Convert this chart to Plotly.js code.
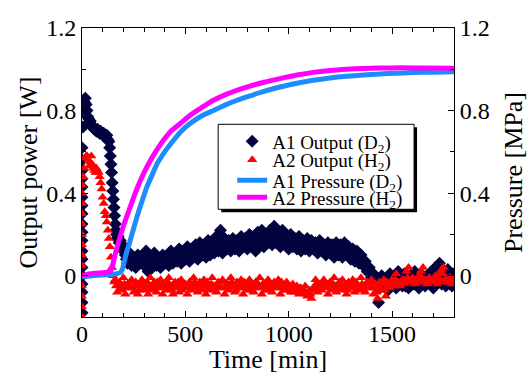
<!DOCTYPE html>
<html>
<head>
<meta charset="utf-8">
<script src="https://cdn.plot.ly/plotly-3.0.1.min.js"></script>
<style>html,body{margin:0;padding:0;background:#fff;}#chart{width:531px;height:374px;}</style>
</head>
<body>
<div id="chart"></div>
<script>
// ---- Data ----
const a1OutTime = [0,0,0,0,0,0,0,0,0,0,0,0,0,0,0,0,0,0,0,
  5,8,12,16,20,24,28,32,36,40,45,50,55,60,65,70,75,80,85,90,95,100,105,110,115,120,125,130,134,137,140,143,146,149,152,155,158,161,164,167,170,175,180,185,190,195,200,205,
  210,220,230,240,250,260,270,280,290,300,310,320,330,340,350,360,370,380,390,400,410,420,430,440,450,460,470,480,490,500,
  510,520,530,540,550,560,570,580,590,600,610,620,630,640,650,660,670,680,690,700,710,720,730,740,750,760,770,780,790,800,
  810,820,830,840,850,860,870,880,890,900,910,920,930,940,950,960,970,980,990,1000,1010,1020,1030,1040,1050,1060,1070,1080,1090,1100,
  1110,1120,1130,1140,1150,1160,1170,1180,1190,1200,1210,1220,1230,1240,1250,1260,1270,1280,1290,1300,1310,1320,1330,1340,1350,1360,1370,1380,1390,1400,
  1410,1420,1430,1435,1440,1450,1460,1470,1480,1490,1500,1510,1520,1530,1540,1550,1560,1570,1580,1590,1600,1610,1620,1630,1640,1650,1660,1670,1680,1690,1700,
  1710,1720,1730,1740,1750,1760,1770,1780,1790,1800];
const a1OutPower = [-0.18,-0.13,-0.08,-0.04,0.0,0.04,0.08,0.12,0.17,0.21,0.25,0.3,0.34,0.38,0.43,0.47,0.51,0.56,0.62,
  0.72,0.8,0.84,0.86,0.83,0.8,0.77,0.76,0.74,0.75,0.73,0.72,0.72,0.71,0.71,0.70,0.71,0.70,0.69,0.70,0.69,0.68,0.69,0.68,0.67,0.68,0.66,0.65,0.62,0.58,0.54,0.5,0.45,0.41,0.37,0.33,0.29,0.25,0.22,0.2,0.18,0.19,0.16,0.17,0.14,0.15,0.12,0.13,
  0.10,0.06,0.11,0.05,0.09,0.04,0.10,0.06,0.08,0.05,0.12,0.02,0.09,0.04,0.11,0.05,0.08,0.04,0.10,0.06,0.09,0.05,0.12,0.06,0.10,0.07,0.13,0.06,0.12,0.08,
  0.14,0.07,0.13,0.09,0.15,0.08,0.16,0.10,0.14,0.09,0.17,0.10,0.16,0.11,0.19,0.12,0.22,0.11,0.18,0.13,0.17,0.12,0.18,0.13,0.17,0.12,0.19,0.14,0.18,0.13,
  0.20,0.14,0.19,0.12,0.21,0.15,0.22,0.14,0.20,0.16,0.22,0.15,0.24,0.16,0.21,0.14,0.22,0.15,0.19,0.13,0.20,0.14,0.18,0.13,0.19,0.12,0.17,0.13,0.18,0.12,
  0.17,0.13,0.16,0.11,0.17,0.12,0.15,0.10,0.16,0.11,0.15,0.09,0.16,0.10,0.15,0.09,0.16,0.11,0.14,0.08,0.13,0.07,0.12,0.06,0.10,0.05,0.07,0.02,0.04,-0.01,
  0.01,-0.04,-0.02,-0.13,-0.06,0.00,-0.05,-0.02,-0.07,0.01,-0.04,-0.01,-0.06,0.02,-0.03,-0.05,0.01,-0.02,-0.06,0.00,-0.04,0.02,-0.03,-0.06,0.01,-0.02,-0.05,0.00,-0.03,0.02,-0.06,
  0.04,-0.02,0.06,-0.04,0.01,-0.05,0.03,-0.02,-0.05,0.01];
// further A1 readings between the points above
const a1OutTimeB = [215,225,235,245,255,265,275,285,295,305,315,325,335,345,355,365,375,385,395,
  405,415,425,435,445,455,465,475,485,495,505,515,525,535,545,555,565,575,585,595,
  605,615,625,635,645,655,665,675,685,695,705,715,725,735,745,755,765,775,785,795,
  805,815,825,835,845,855,865,875,885,895,905,915,925,935,945,955,965,975,985,995,
  1005,1015,1025,1035,1045,1055,1065,1075,1085,1095,1105,1115,1125,1135,1145,1155,1165,1175,1185,1195,
  1205,1215,1225,1235,1245,1255,1265,1275,1285,1295,1305,1315,1325,1335,1345,1355,1365,1375,1385,1395,
  1405,1415,1425,1445,1455,1465,1475,1485,1495,1505,1515,1525,1535,1545,1555,1565,1575,1585,1595,
  1605,1615,1625,1635,1645,1655,1665,1675,1685,1695,1705,1715,1725,1735,1745,1755,1765,1775,1785,1795];
const a1OutPowerB = [0.08,0.09,0.07,0.08,0.06,0.07,0.09,0.07,0.06,0.08,0.07,0.06,0.07,0.08,0.07,0.06,0.07,0.08,0.07,
  0.07,0.08,0.09,0.08,0.09,0.08,0.10,0.09,0.10,0.09,0.11,0.10,0.11,0.12,0.11,0.12,0.13,0.12,0.12,0.13,
  0.13,0.14,0.13,0.15,0.14,0.16,0.17,0.16,0.15,0.16,0.15,0.14,0.15,0.16,0.15,0.14,0.16,0.17,0.16,0.15,
  0.17,0.16,0.17,0.15,0.18,0.17,0.19,0.18,0.17,0.18,0.19,0.18,0.20,0.19,0.18,0.17,0.18,0.17,0.16,0.16,
  0.17,0.16,0.15,0.16,0.15,0.16,0.14,0.15,0.16,0.14,0.15,0.14,0.15,0.13,0.14,0.15,0.13,0.12,0.13,0.14,
  0.13,0.12,0.13,0.12,0.13,0.12,0.13,0.12,0.11,0.12,0.10,0.10,0.09,0.09,0.08,0.07,0.06,0.04,0.03,0.01,
  -0.02,-0.01,-0.05,-0.03,-0.02,-0.04,-0.01,-0.03,-0.05,-0.02,-0.03,-0.01,-0.04,-0.02,-0.03,-0.05,-0.01,-0.03,-0.02,
  -0.04,-0.01,-0.03,-0.02,-0.04,-0.01,-0.03,-0.02,-0.04,0.00,-0.03,0.02,0.01,0.03,-0.02,-0.03,-0.01,0.01,-0.03,-0.02];

const a2OutTime = [0,0,0,0,0,0,0,0,0,0,0,0,0,0,
  5,10,15,20,25,30,35,40,45,50,55,60,65,70,75,80,85,90,95,100,105,110,115,120,125,130,135,140,145,150,155,
  160,170,180,190,200,210,220,230,240,250,260,270,280,290,300,310,320,330,340,350,360,370,380,390,400,410,420,430,440,450,
  460,470,480,490,500,510,520,530,540,550,560,570,580,590,600,610,620,630,640,650,660,670,680,690,700,710,720,730,740,750,
  760,770,780,790,800,810,820,830,840,850,860,870,880,890,900,910,920,930,940,950,960,970,980,990,1000,1010,1020,1030,1040,1050,
  1060,1070,1080,1090,1100,1110,1120,1130,1140,1150,1160,1170,1180,1190,1200,1210,1220,1230,1240,1250,1260,1270,1280,1290,1300,1310,1320,1330,1340,1350,
  1360,1370,1380,1390,1400,1410,1420,1430,1440,1450,1460,1470,1480,1490,1500,1510,1520,1530,1540,1550,1560,1570,1580,1590,1600,1610,1620,1630,1640,1650,
  1660,1670,1680,1690,1700,1710,1720,1730,1740,1750,1760,1770,1780,1790,1800];
const a2OutPower = [-0.2,-0.15,-0.1,-0.05,0.0,0.05,0.1,0.15,0.2,0.25,0.3,0.35,0.4,0.44,
  0.48,0.52,0.57,0.58,0.58,0.56,0.53,0.55,0.58,0.54,0.52,0.51,0.50,0.52,0.51,0.50,0.48,0.45,0.42,0.38,0.35,0.31,0.29,0.26,0.22,0.18,0.14,0.09,0.04,0.0,-0.03,
  -0.02,-0.08,-0.03,-0.07,-0.01,-0.09,-0.04,-0.06,-0.02,-0.08,-0.03,-0.09,-0.05,-0.02,-0.07,-0.04,-0.09,-0.01,-0.06,-0.03,-0.08,-0.05,-0.02,-0.09,-0.04,-0.07,-0.01,-0.06,-0.09,-0.03,
  -0.05,-0.08,-0.02,-0.06,-0.04,-0.09,-0.03,-0.07,-0.01,-0.05,-0.08,-0.03,-0.06,-0.02,-0.09,-0.04,-0.07,-0.01,-0.05,-0.08,-0.03,-0.06,-0.02,-0.09,-0.04,-0.07,-0.01,-0.05,-0.08,-0.03,
  -0.06,-0.02,-0.09,-0.04,-0.07,-0.02,-0.05,-0.08,-0.03,-0.06,-0.01,-0.09,-0.04,-0.07,-0.02,-0.05,-0.08,-0.03,-0.06,-0.02,-0.09,-0.04,-0.07,-0.03,-0.06,-0.08,-0.04,-0.07,-0.05,-0.09,
  -0.06,-0.08,-0.05,-0.10,-0.07,-0.11,-0.06,-0.02,-0.08,-0.04,-0.07,-0.02,-0.05,-0.09,-0.03,-0.06,-0.01,-0.08,-0.04,-0.07,-0.02,-0.05,-0.09,-0.03,-0.06,-0.02,-0.08,-0.04,-0.07,-0.01,
  -0.05,-0.08,-0.03,-0.06,-0.02,-0.09,-0.04,-0.11,-0.03,-0.07,-0.02,-0.10,-0.04,-0.06,-0.02,-0.05,0.01,-0.03,-0.05,-0.02,-0.04,0.02,0.04,-0.03,-0.01,-0.04,-0.02,0.00,0.02,0.04,
  -0.02,-0.04,-0.01,-0.03,-0.02,0.00,-0.04,0.01,0.03,0.04,-0.02,-0.03,-0.01,-0.04,-0.02];
// further A2 readings between the points above
const a2OutTimeB = [165,175,185,195,205,215,225,235,245,255,265,275,285,295,305,315,325,335,345,355,365,375,385,395,
  405,415,425,435,445,455,465,475,485,495,505,515,525,535,545,555,565,575,585,595,
  605,615,625,635,645,655,665,675,685,695,705,715,725,735,745,755,765,775,785,795,
  805,815,825,835,845,855,865,875,885,895,905,915,925,935,945,955,965,975,985,995,
  1005,1015,1025,1035,1045,1055,1065,1075,1085,1095,1105,1115,1125,1135,1145,1155,1165,1175,1185,1195,
  1205,1215,1225,1235,1245,1255,1265,1275,1285,1295,1305,1315,1325,1335,1345,1355,1365,1375,1385,1395,
  1405,1415,1425,1435,1445,1455,1465,1475,1485,1495,1505,1515,1525,1535,1545,1555,1565,1575,1585,1595,
  1605,1615,1625,1635,1645,1655,1665,1675,1685,1695,1705,1715,1725,1735,1745,1755,1765,1775,1785,1795];
const a2OutPowerB = [-0.05,-0.04,-0.06,-0.05,-0.04,-0.06,-0.05,-0.03,-0.06,-0.05,-0.04,-0.07,-0.04,-0.05,-0.06,-0.03,-0.05,-0.07,-0.04,-0.06,-0.03,-0.06,-0.05,-0.04,
  -0.06,-0.03,-0.05,-0.07,-0.04,-0.06,-0.03,-0.05,-0.07,-0.04,-0.06,-0.05,-0.04,-0.06,-0.03,-0.05,-0.06,-0.04,-0.07,-0.05,
  -0.03,-0.06,-0.04,-0.05,-0.07,-0.04,-0.05,-0.03,-0.06,-0.05,-0.04,-0.06,-0.03,-0.05,-0.07,-0.04,-0.05,-0.06,-0.03,-0.05,
  -0.06,-0.04,-0.07,-0.05,-0.03,-0.05,-0.06,-0.04,-0.05,-0.07,-0.03,-0.06,-0.05,-0.04,-0.06,-0.05,-0.03,-0.06,-0.05,-0.07,
  -0.05,-0.06,-0.08,-0.06,-0.07,-0.06,-0.08,-0.07,-0.09,-0.08,-0.09,-0.07,-0.05,-0.04,-0.06,-0.05,-0.03,-0.06,-0.04,-0.05,
  -0.07,-0.04,-0.05,-0.06,-0.03,-0.05,-0.06,-0.04,-0.07,-0.05,-0.04,-0.06,-0.03,-0.05,-0.06,-0.04,-0.07,-0.05,-0.04,-0.06,
  -0.05,-0.06,-0.08,-0.05,-0.06,-0.04,-0.07,-0.03,-0.05,-0.03,-0.04,-0.02,-0.03,-0.04,-0.03,-0.02,-0.03,-0.01,-0.02,-0.03,
  -0.02,-0.03,-0.02,-0.03,-0.01,-0.02,-0.03,-0.02,-0.03,-0.02,-0.03,-0.02,-0.03,-0.02,0.01,-0.02,-0.03,-0.02,-0.03,-0.02];

const a1PressTime = [0,50,100,150,170,185,195,205,215,230,250,266,290,314,340,362,400,443,480,523,580,636,700,797,880,958,1040,1119,1200,1280,1360,1441,1520,1600,1700,1800];
const a1Pressure  = [-0.005,0.0,0.004,0.007,0.01,0.015,0.03,0.07,0.11,0.16,0.23,0.285,0.36,0.43,0.49,0.54,0.60,0.656,0.70,0.737,0.775,0.80,0.83,0.866,0.893,0.914,0.932,0.947,0.958,0.966,0.972,0.977,0.981,0.984,0.986,0.988];

const a2PressTime = [0,20,60,100,135,145,155,170,185,200,225,250,280,314,350,394,430,475,520,556,600,636,700,797,880,958,1040,1119,1200,1280,1360,1441,1550,1650,1800];
const a2Pressure  = [-0.005,0.005,0.012,0.015,0.02,0.04,0.08,0.14,0.19,0.24,0.31,0.38,0.455,0.527,0.59,0.656,0.70,0.737,0.775,0.80,0.828,0.85,0.88,0.914,0.937,0.955,0.972,0.985,0.994,1.0,1.004,1.006,1.007,1.006,1.005];

const seriesNames = ['A1 Output (D<sub>2</sub>)','A2 Output (H<sub>2</sub>)','A1 Pressure (D<sub>2</sub>)','A2 Pressure (H<sub>2</sub>)'];
const xTickVals = [0,500,1000,1500];
const yTickVals = [0,0.4,0.8,1.2];
const yTickText = ['0','0.4','0.8','1.2'];

// ---- Plot ----
const FONT = 'Liberation Serif';
const traces = [
  {x:a1OutTime.concat(a1OutTimeB), y:a1OutPower.concat(a1OutPowerB), name:seriesNames[0], type:'scatter', mode:'markers',
   marker:{symbol:'diamond', size:10, color:'#03033f'}, legend:'legend', yaxis:'y'},
  {x:a2OutTime.concat(a2OutTimeB), y:a2OutPower.concat(a2OutPowerB), name:seriesNames[1], type:'scatter', mode:'markers',
   marker:{symbol:'triangle-up', size:9, color:'#ff0000'}, legend:'legend2', yaxis:'y'},
  {x:a1PressTime, y:a1Pressure, name:seriesNames[2], type:'scatter', mode:'lines',
   line:{color:'#1e8cff', width:5, shape:'spline', smoothing:0.6}, legend:'legend3', yaxis:'y2'},
  {x:a2PressTime, y:a2Pressure, name:seriesNames[3], type:'scatter', mode:'lines',
   line:{color:'#ff00ff', width:5, shape:'spline', smoothing:0.6}, legend:'legend4', yaxis:'y2'}
];

function legendAt(y){
  return {x:0.4037, xanchor:'left', y:y, yanchor:'middle', bgcolor:'rgba(0,0,0,0)', borderwidth:0,
          font:{family:FONT, size:19, color:'#000'}, itemsizing:'trace'};
}
function axisBase(){
  return {
    showgrid:false, zeroline:false, showline:true, linecolor:'#000', linewidth:1,
    ticks:'inside', ticklen:6, tickwidth:1, tickcolor:'#000',
    tickfont:{family:FONT, size:24, color:'#000'}
  };
}

const layout = {
  width:531, height:374,
  margin:{l:82, r:77, t:28, b:57},
  paper_bgcolor:'#fff', plot_bgcolor:'#fff',
  font:{family:FONT, color:'#000'},
  showlegend:true,
  xaxis: Object.assign(axisBase(), {
    range:[0,1800], tickvals:xTickVals, mirror:'ticks', ticklabelstandoff:-5,
    minor:{dtick:100, tick0:0, ticks:'inside', ticklen:4, tickcolor:'#000'},
    title:{text:'Time [min]', font:{family:FONT, size:26, color:'#000'}, standoff:13}
  }),
  yaxis: Object.assign(axisBase(), {
    range:[-0.2,1.2], tickvals:yTickVals, ticktext:yTickText,
    minor:{dtick:0.2, tick0:0, ticks:'inside', ticklen:4, tickcolor:'#000'},
    title:{text:'Output power [W]', font:{family:FONT, size:26, color:'#000'}, standoff:1}
  }),
  yaxis2: Object.assign(axisBase(), {
    range:[-0.2,1.2], overlaying:'y', side:'right', tickvals:yTickVals, ticktext:yTickText,
    minor:{dtick:0.2, tick0:0, ticks:'inside', ticklen:4, tickcolor:'#000'},
    title:{text:'Pressure [MPa]', font:{family:FONT, size:26, color:'#000'}, standoff:15}
  }),
  legend: legendAt(0.608),
  legend2: legendAt(0.544),
  legend3: legendAt(0.473),
  legend4: legendAt(0.414),
  shapes:[
    {type:'rect', xref:'paper', yref:'paper', x0:0.3742, x1:0.9007, y0:0.3623, y1:0.6564,
     fillcolor:'#000', line:{width:0}, layer:'above'},
    {type:'rect', xref:'paper', yref:'paper', x0:0.366, x1:0.8926, y0:0.3727, y1:0.6668,
     fillcolor:'#fff', line:{width:1, color:'#000'}, layer:'above'}
  ]
};

Plotly.newPlot('chart', traces, layout, {staticPlot:true, displayModeBar:false});
</script>
</body>
</html>
